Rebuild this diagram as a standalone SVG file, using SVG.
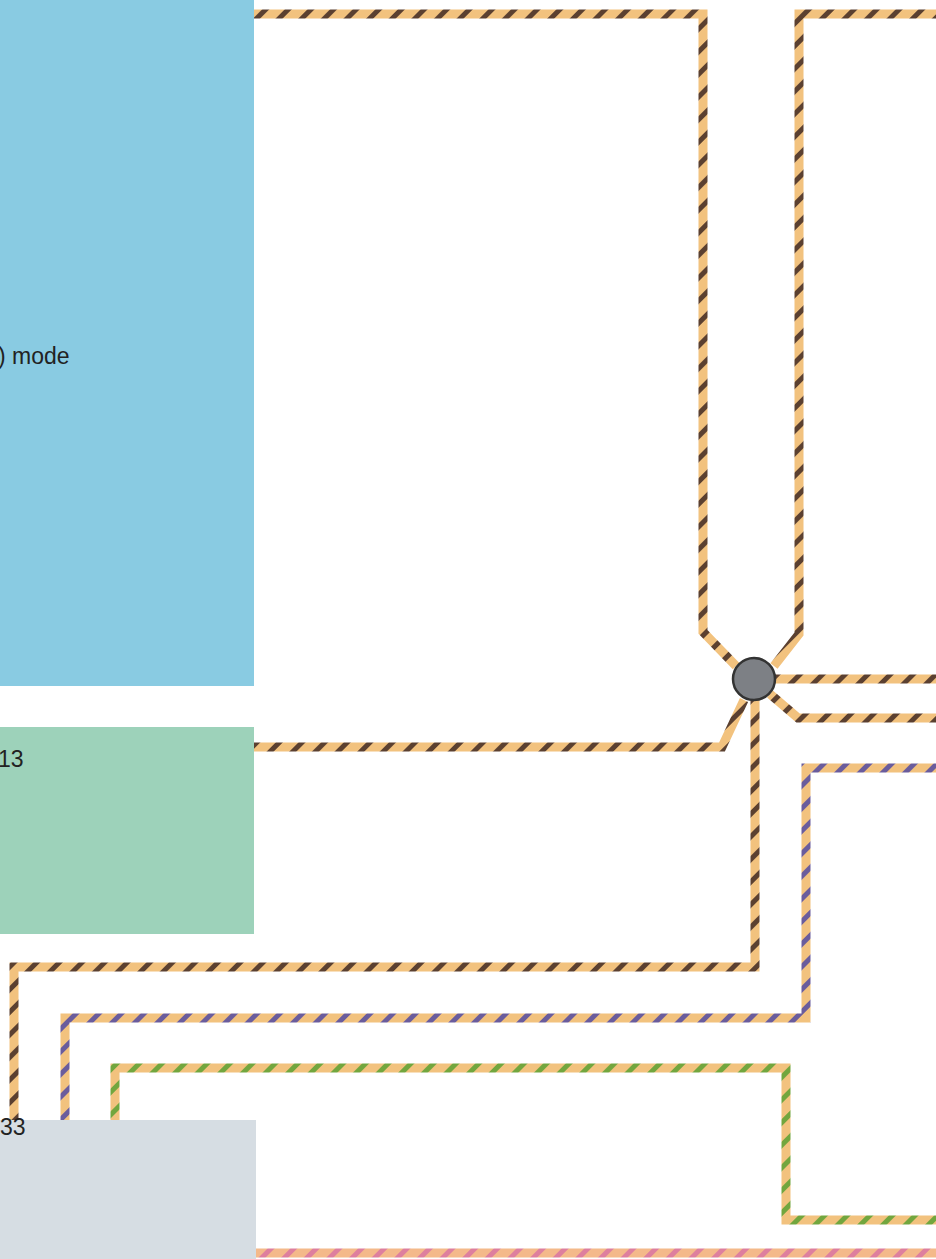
<svg xmlns="http://www.w3.org/2000/svg" width="936" height="1259" viewBox="0 0 936 1259">
<defs>
<pattern id="ropeBrown" width="16" height="16" patternUnits="userSpaceOnUse" patternTransform="rotate(45)">
<rect width="16" height="16" fill="#F2C27E"/><rect x="0" width="5" height="16" fill="#5B4030"/>
</pattern>
<pattern id="ropePurple" width="16" height="16" patternUnits="userSpaceOnUse" patternTransform="rotate(45)">
<rect width="16" height="16" fill="#F2C27E"/><rect x="0" width="5" height="16" fill="#6A5C9C"/>
</pattern>
<pattern id="ropeGreen" width="16" height="16" patternUnits="userSpaceOnUse" patternTransform="rotate(45)">
<rect width="16" height="16" fill="#F2C27E"/><rect x="0" width="5" height="16" fill="#72A63E"/>
</pattern>
<pattern id="ropePink" width="16" height="16" patternUnits="userSpaceOnUse" patternTransform="rotate(45)">
<rect width="16" height="16" fill="#F4B98A"/><rect x="0" width="5" height="16" fill="#DE7F9E"/>
</pattern>
</defs>
<style>
.node text{font-family:"Liberation Sans",Arial,sans-serif;font-size:23px;fill:#222}
.edge{fill:none;stroke-width:9;stroke-linejoin:miter;stroke-linecap:butt}
.b{stroke:url(#ropeBrown)}
.p{stroke:url(#ropePurple)}
.g{stroke:url(#ropeGreen)}
.k{stroke:url(#ropePink)}
</style>
<rect width="936" height="1259" fill="#FFFFFF"/>
<g id="connectors">
<path class="edge b" d="M254 14 H703 V632 L736 666"/>
<path class="edge b" d="M936 14 H799 V634 L774 666"/>
<path class="edge b" d="M775 679 H936"/>
<path class="edge b" d="M770 694 L798 718 H936"/>
<path class="edge b" d="M744 700 L722 747 H254"/>
<path class="edge b" d="M755 700 V967 H14 V1120"/>
<path class="edge p" d="M936 768 H806 V1018 H65 V1120"/>
<path class="edge g" d="M936 1220 H786 V1068 H115 V1120"/>
<path class="edge k" d="M254 1253 H936"/>
</g>
<g id="hub">
<circle cx="754" cy="679" r="21" fill="#7D8085" stroke="#333333" stroke-width="2.5"/>
</g>
<g id="node-mode" class="node">
<rect x="0" y="0" width="254" height="686" fill="#89CBE2"/>
<text x="-2" y="364">) mode</text>
</g>
<g id="node-13" class="node">
<rect x="0" y="727" width="254" height="207" fill="#9DD2BA"/>
<text x="-2" y="767">13</text>
</g>
<g id="node-33" class="node">
<rect x="0" y="1120" width="256" height="139" fill="#D6DDE3"/>
<text x="0" y="1135">33</text>
</g>
</svg>
